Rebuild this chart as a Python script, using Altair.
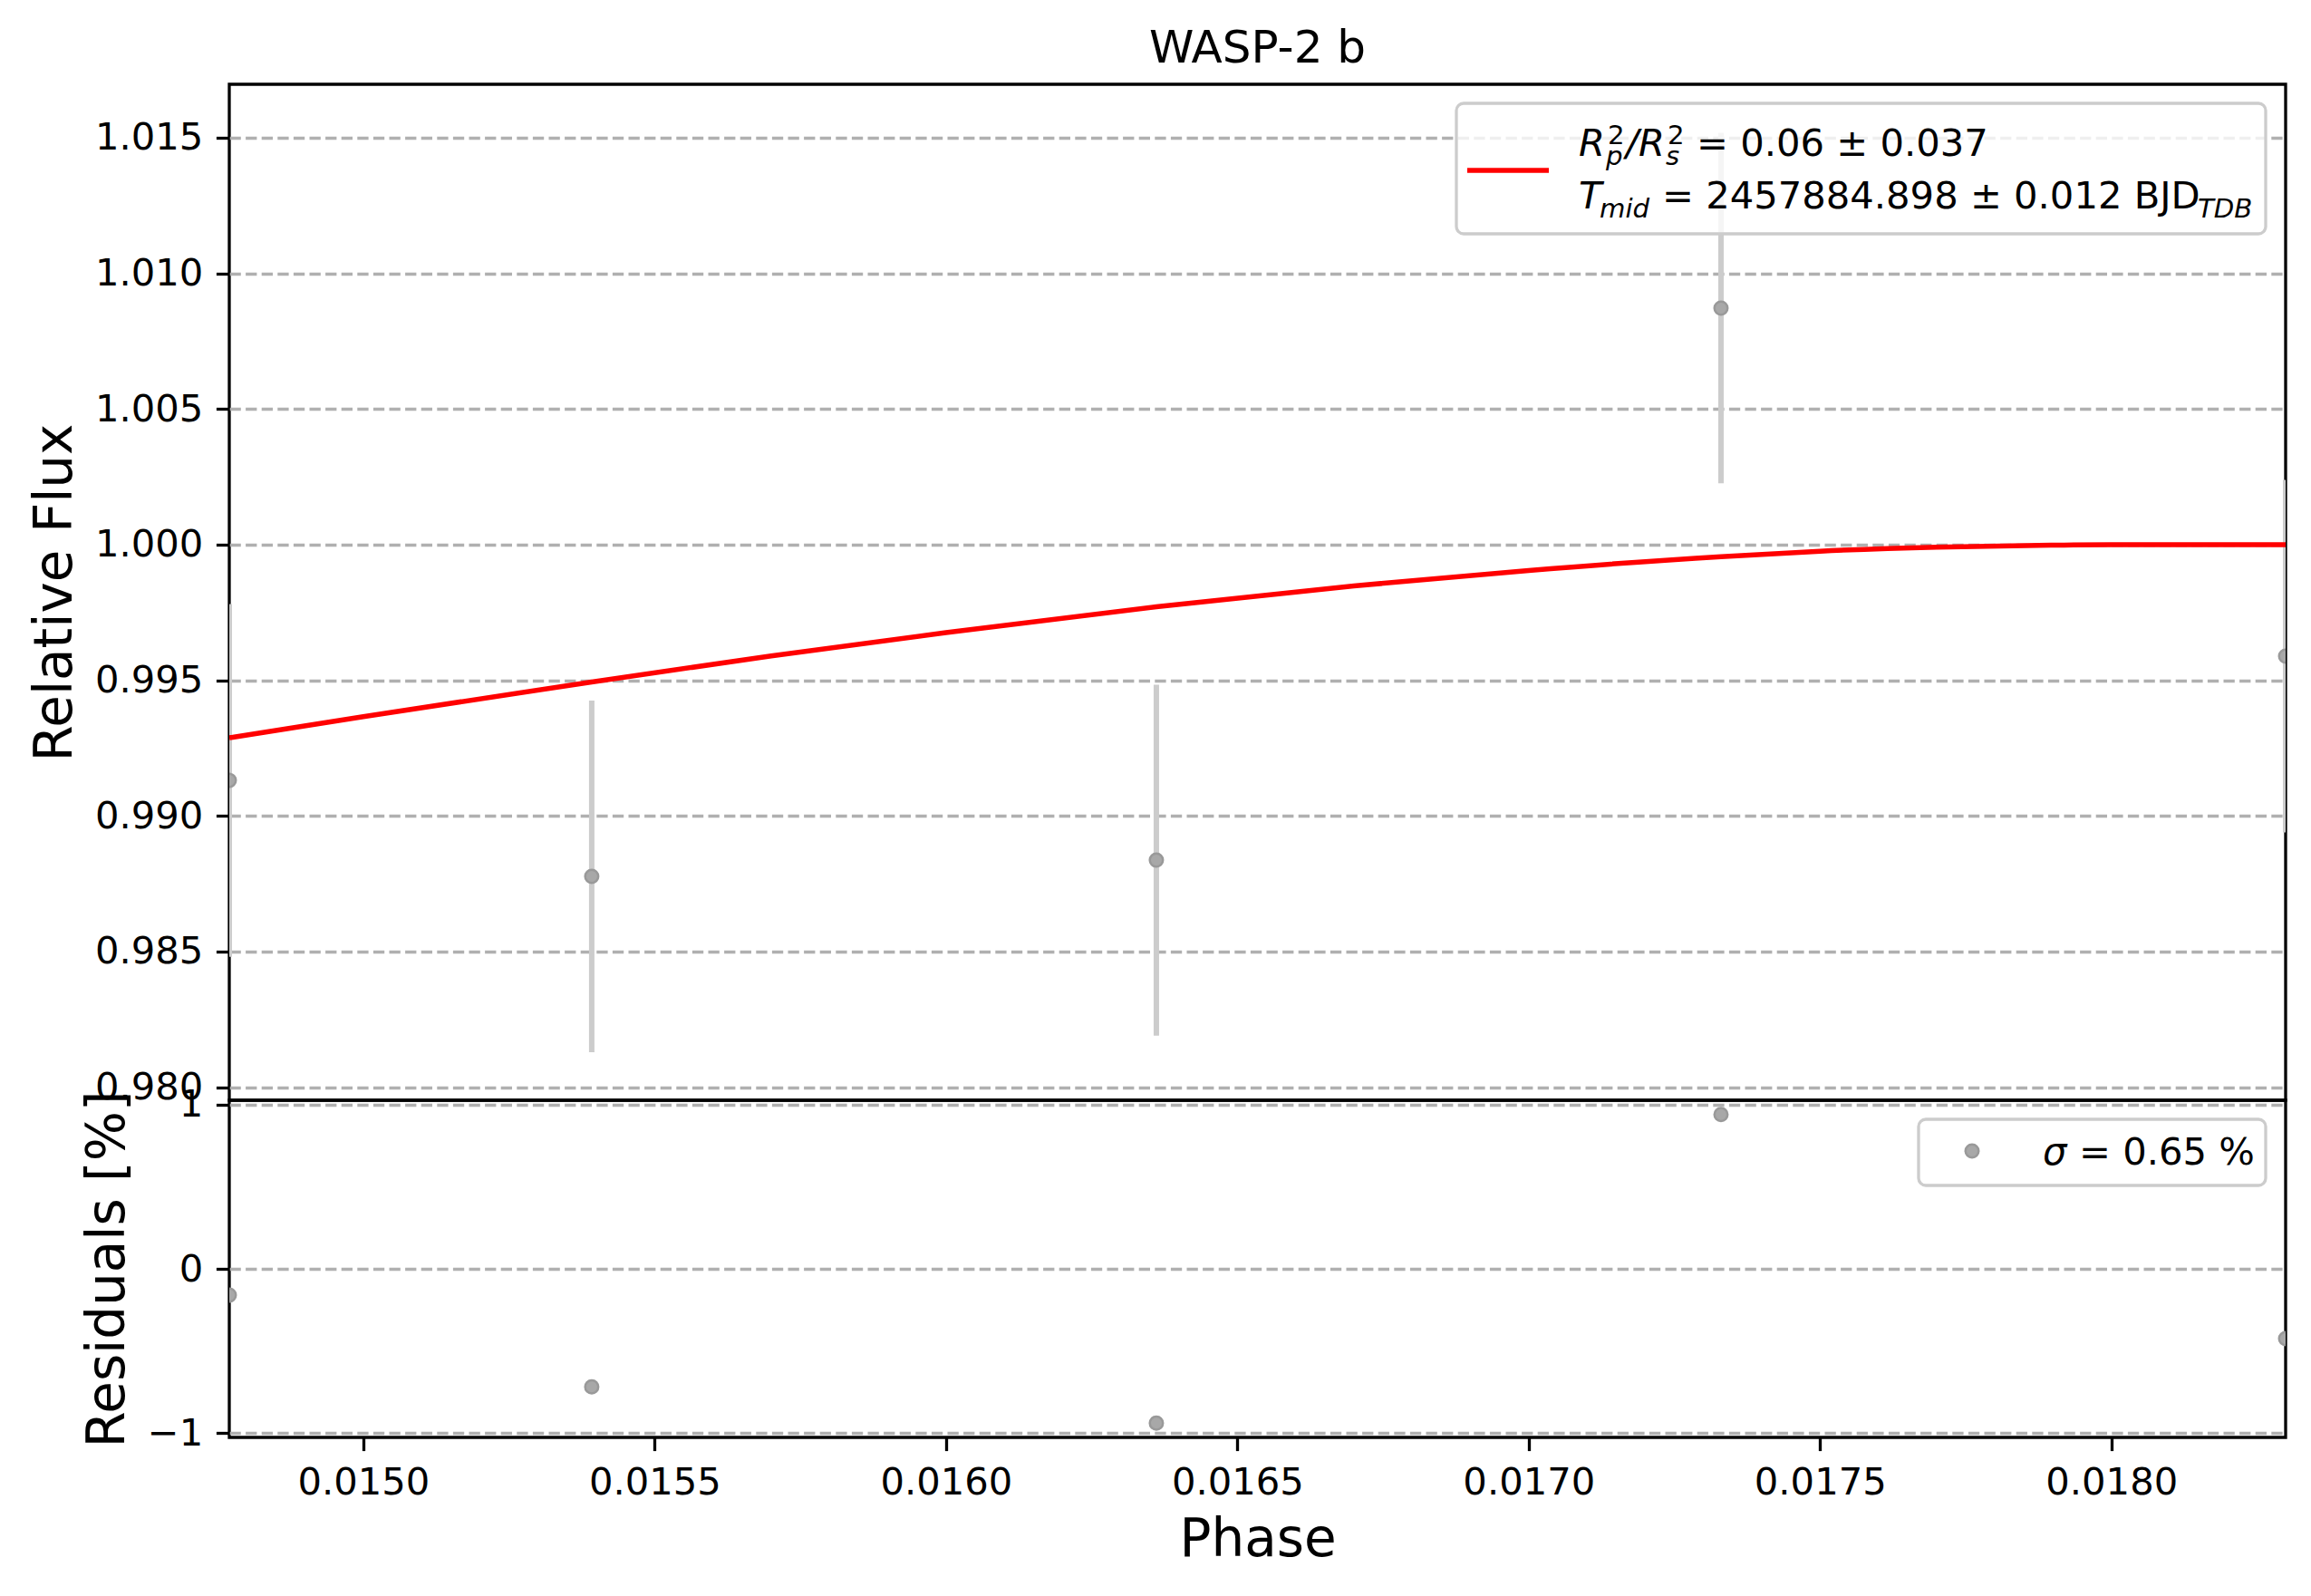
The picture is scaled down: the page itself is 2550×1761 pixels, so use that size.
import altair as alt
import pandas as pd

# ---------------- data ----------------
phase = [0.01477, 0.015392, 0.016361, 0.017330, 0.018299]
flux = [0.99131, 0.98777, 0.98837, 1.00872, 0.99589]
flux_err = [0.0065, 0.00648, 0.00647, 0.00646, 0.0065]
residual_pct = [-0.16, -0.72, -0.94, 0.94, -0.425]

model_phase = [0.014770, 0.015000, 0.015392, 0.015700, 0.016000, 0.016361,
               0.016700, 0.017000, 0.017330, 0.017500, 0.017700, 0.017900,
               0.018000, 0.018299]
model_flux = [0.99288, 0.99366, 0.99494, 0.99590, 0.99676, 0.99771,
              0.99848, 0.99905, 0.99956, 0.99976, 0.99991, 0.99998,
              1.00000, 1.00000]

x_ticks = [0.0150, 0.0155, 0.0160, 0.0165, 0.0170, 0.0175, 0.0180]
flux_ticks = [0.980, 0.985, 0.990, 0.995, 1.000, 1.005, 1.010, 1.015]
res_ticks = [-1, 0, 1]

NB = "\u00a0"
title_text = "WASP-2 b"
legend1 = {
    "R": "R", "two": "2", "p": "p", "slash": "/", "s": "s",
    "rest1": "= 0.06 ± 0.037",
    "T": "T", "mid": "mid", "rest2": "= 2457884.898 ± 0.012 BJD", "tdb": "TDB",
}
legend2 = {"sigma": "σ", "rest": "= 0.65 %"}

# ---------------- sizes ----------------
W = 2269
H_TOP = 1121
H_BOT = 372
FS = 41.7      # 10 pt
FS_SUB = 29.2  # script size
FS_LAB = 58    # axis labels
LW = 3.3       # 0.8 pt

x_dom = [0.01477, 0.018299]
xs = alt.Scale(domain=x_dom, nice=False, zero=False)

df = pd.DataFrame({
    "phase": phase,
    "flux": flux,
    "lo": [f - e for f, e in zip(flux, flux_err)],
    "hi": [f + e for f, e in zip(flux, flux_err)],
    "res": residual_pct,
})
dm = pd.DataFrame({"phase": model_phase, "model": model_flux})

grid_kw = dict(grid=True, gridColor="#b0b0b0", gridWidth=LW, gridDash=[12.3, 5.3])

y_top_axis = alt.Axis(values=flux_ticks, format=".3f", title="Relative Flux", **grid_kw)
y_top_scale = alt.Scale(domain=[0.97952, 1.01697], nice=False, zero=False)

point_style = dict(filled=True, fill="#a8a8a8", stroke="#999999", strokeWidth=2.5,
                   size=210, opacity=1, clip=True)

errbars = alt.Chart(df).mark_rule(color="#cccccc", strokeWidth=6, clip=True).encode(
    x=alt.X("phase:Q", scale=xs, axis=None),
    y=alt.Y("lo:Q", scale=y_top_scale, axis=y_top_axis),
    y2="hi:Q",
)
pts = alt.Chart(df).mark_point(shape="circle", **point_style).encode(
    x=alt.X("phase:Q", scale=xs, axis=None),
    y=alt.Y("flux:Q", scale=y_top_scale, axis=y_top_axis),
)
model = alt.Chart(dm).mark_line(color="red", strokeWidth=5.5, interpolate="monotone", clip=True).encode(
    x=alt.X("phase:Q", scale=xs, axis=None),
    y=alt.Y("model:Q", scale=y_top_scale, axis=y_top_axis),
)


def one(text):
    return alt.Chart(pd.DataFrame({"t": [text]}))


def txt(text, x, y, size, italic=False):
    kw = dict(align="left", baseline="alphabetic", fontSize=size, color="black",
              font="DejaVu Sans")
    if italic:
        kw["fontStyle"] = "italic"
    return one(text).mark_text(**kw).encode(text="t:N", x=alt.value(x), y=alt.value(y))


# legend 1 (positions relative to the top plot area)
box1 = one("box").mark_rect(fill="white", fillOpacity=0.8, stroke="#cccccc",
                            strokeWidth=LW, cornerRadius=8).encode(
    x=alt.value(1354), x2=alt.value(2247), y=alt.value(21), y2=alt.value(165))
line1 = one("line").mark_rule(color="red", strokeWidth=5.5).encode(
    x=alt.value(1366), x2=alt.value(1456), y=alt.value(95))
b1, b2 = 79, 137
leg1 = [
    txt(legend1["R"], 1489, b1, FS, True),
    txt(legend1["two"], 1521, b1 - 13, FS_SUB),
    txt(legend1["p"], 1519, b1 + 10, FS_SUB, True),
    txt(legend1["slash"], 1541, b1, FS, True),
    txt(legend1["R"], 1555, b1, FS, True),
    txt(legend1["two"], 1587, b1 - 13, FS_SUB),
    txt(legend1["s"], 1585, b1 + 10, FS_SUB, True),
    txt(legend1["rest1"], 1619, b1, FS),
    txt(legend1["T"], 1489, b2, FS, True),
    txt(legend1["mid"], 1512, b2 + 10, FS_SUB, True),
    txt(legend1["rest2"], 1581, b2, FS),
    txt(legend1["tdb"], 2172, b2 + 10, FS_SUB, True),
]

top = alt.layer(errbars, pts, model, box1, line1, *leg1).properties(
    width=W, height=H_TOP,
    title=alt.TitleParams(title_text, fontSize=50, fontWeight="normal", anchor="middle",
                          frame="group", offset=-26, baseline="alphabetic", color="black",
                          font="DejaVu Sans"),
)

# bottom panel
y_bot_scale = alt.Scale(domain=[-1.0276, 1.0276], nice=False, zero=False)
y_bot_axis = alt.Axis(values=res_ticks, title="Residuals [%]",
                      labelExpr="datum.value < 0 ? '\u2212' + format(-datum.value, 'd') : format(datum.value, 'd')",
                      **grid_kw)
x_bot_axis = alt.Axis(values=x_ticks, format=".4f", title="Phase", labelFlush=False, grid=False)

res_pts = alt.Chart(df).mark_point(shape="circle", **point_style).encode(
    x=alt.X("phase:Q", scale=xs, axis=x_bot_axis),
    y=alt.Y("res:Q", scale=y_bot_scale, axis=y_bot_axis),
)
box2 = one("box").mark_rect(fill="white", fillOpacity=0.8, stroke="#cccccc",
                            strokeWidth=LW, cornerRadius=8).encode(
    x=alt.value(1864), x2=alt.value(2247), y=alt.value(21), y2=alt.value(94))
mark2 = one("m").mark_point(shape="circle", filled=True, fill="#a8a8a8", stroke="#999999",
                            strokeWidth=2.5, size=210, opacity=1).encode(
    x=alt.value(1923), y=alt.value(56))
leg2 = [
    txt(legend2["sigma"], 2001, 71, FS, True),
    txt(legend2["rest"], 2041, 71, FS),
]
bottom = alt.layer(res_pts, box2, mark2, *leg2).properties(width=W, height=H_BOT)

chart = alt.vconcat(top, bottom, spacing=0, bounds="flush").properties(
    padding={"left": 22, "top": 19, "right": 10, "bottom": 10},
).configure(font="DejaVu Sans").configure_view(
    stroke="black", strokeWidth=LW
).configure_axis(
    domain=False,
    tickSize=14.6, tickWidth=LW, tickColor="black",
    labelFontSize=FS, labelColor="black", labelPadding=14.6, labelFont="DejaVu Sans",
    titleFontSize=FS_LAB, titleFontWeight="normal", titleColor="black", titlePadding=14,
    titleFont="DejaVu Sans",
)

chart.save("out.html", embed_options={"renderer": "svg", "actions": False})
